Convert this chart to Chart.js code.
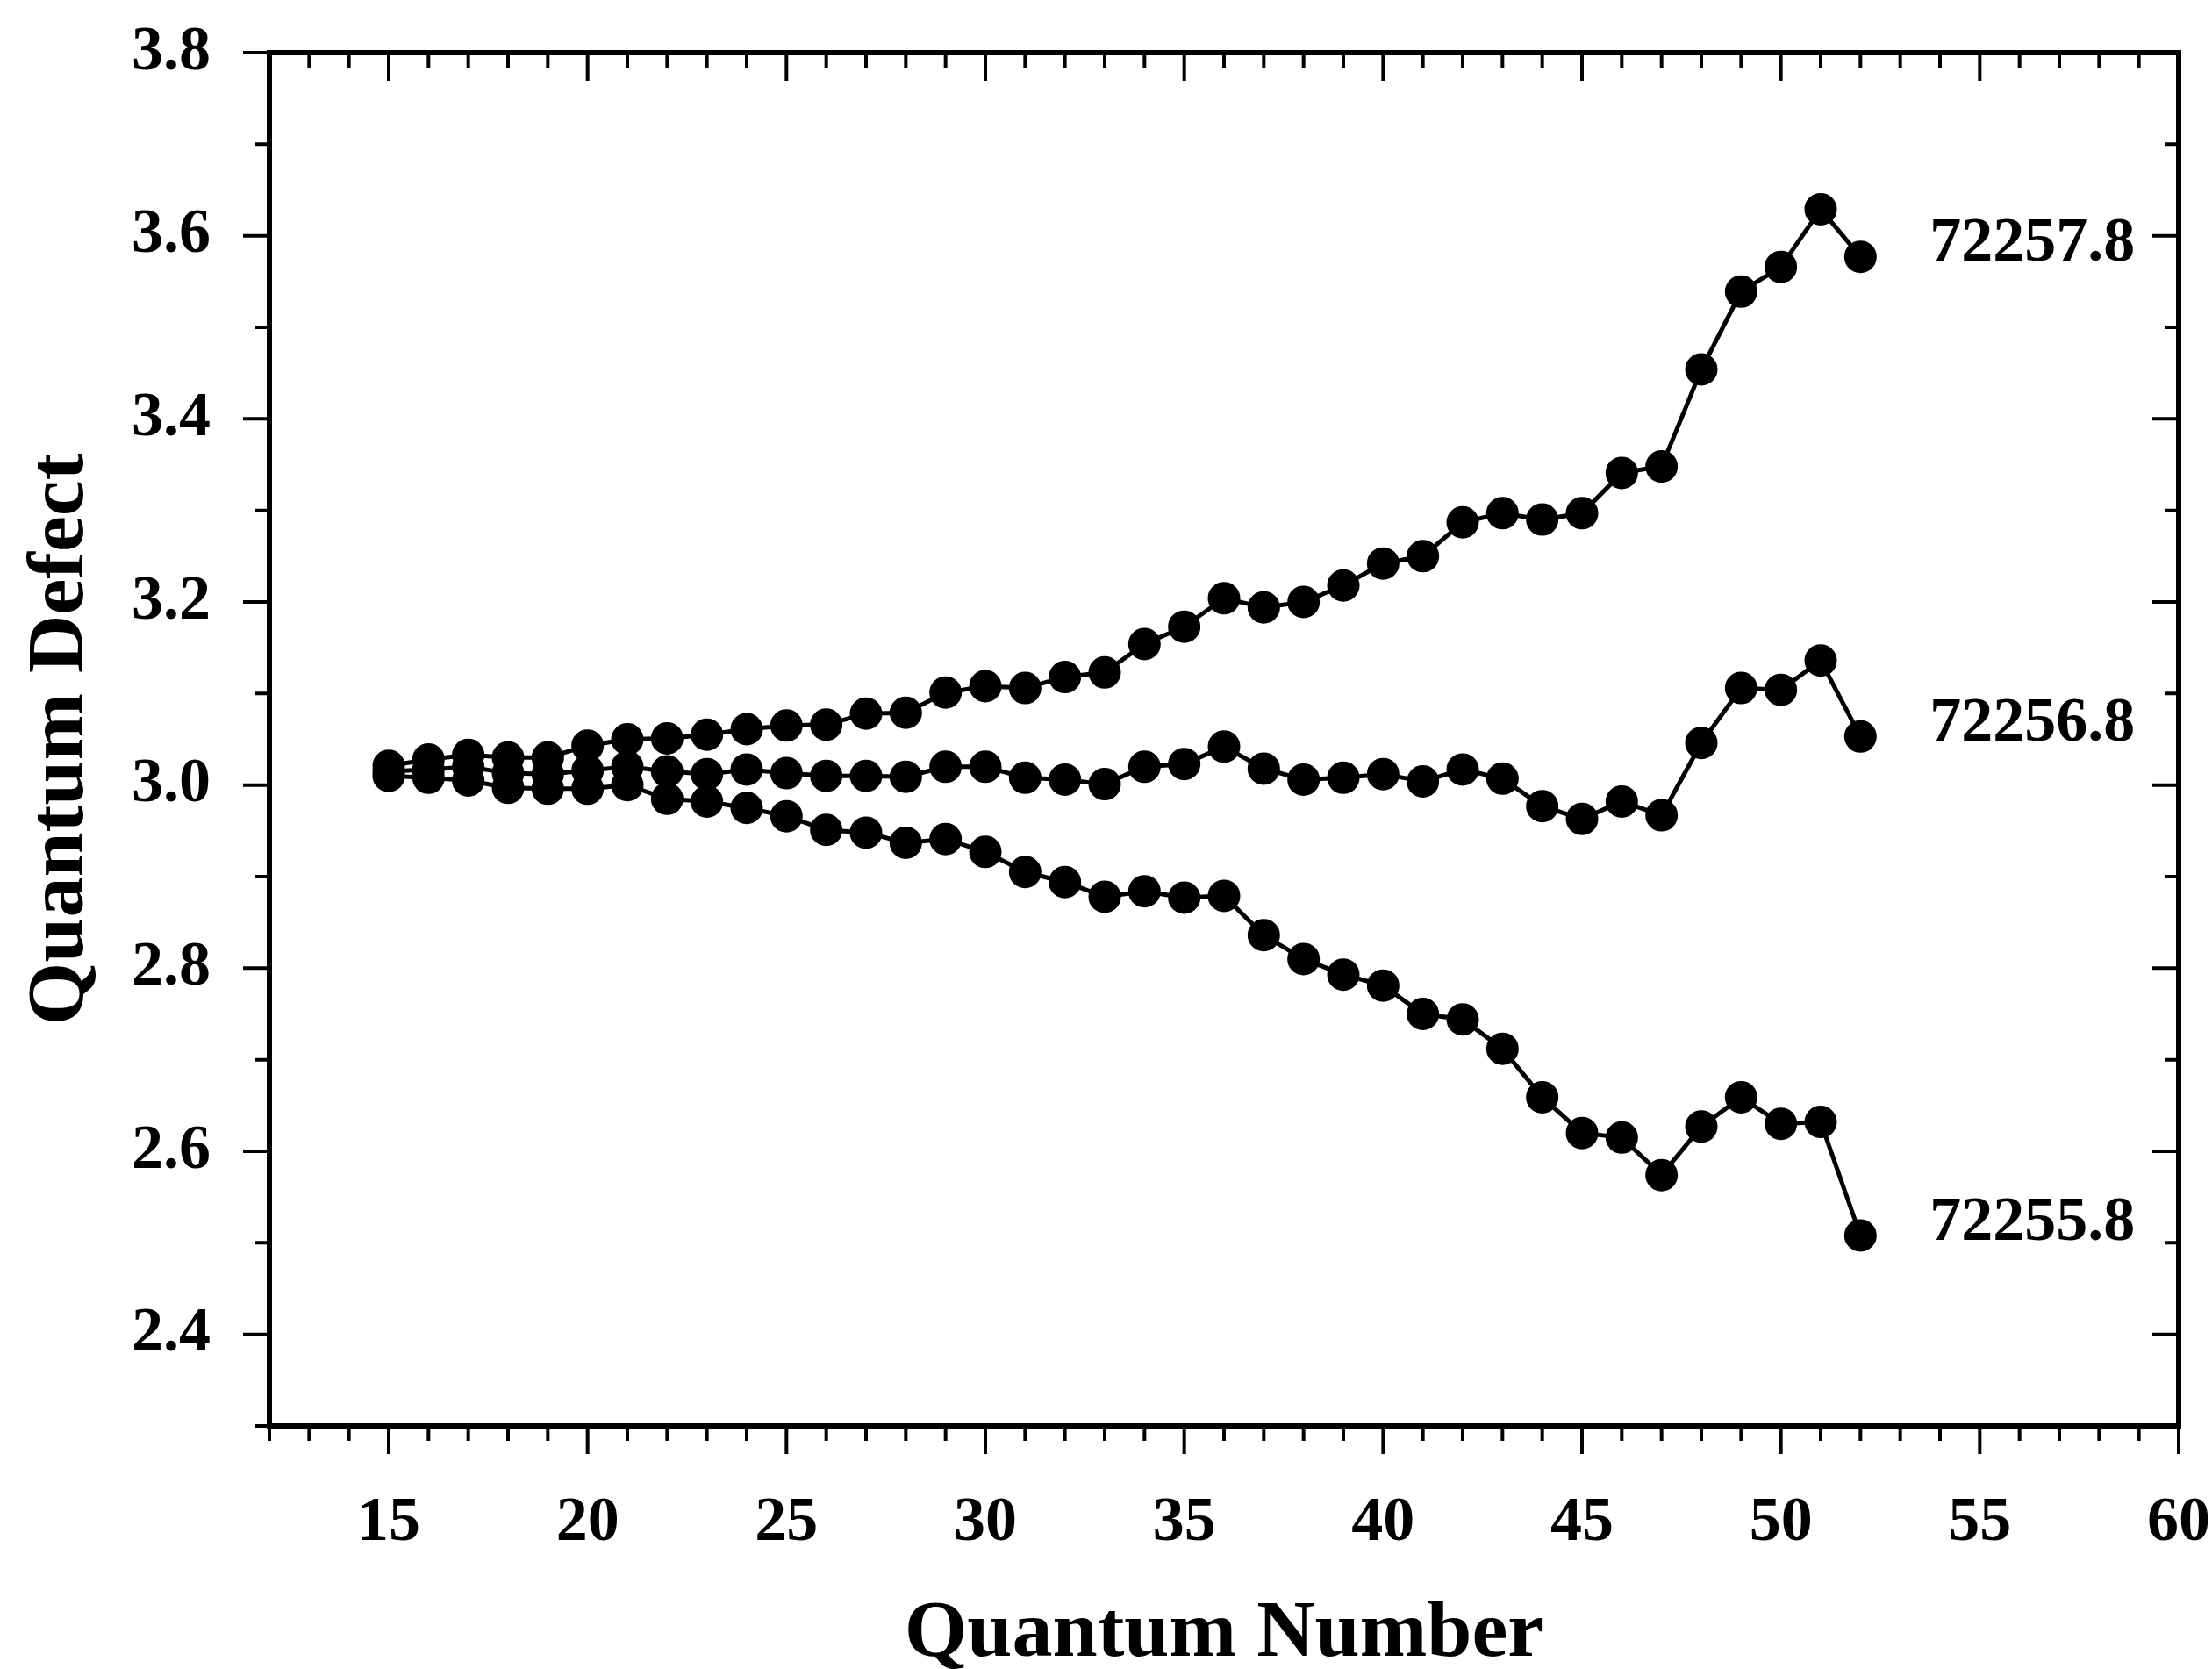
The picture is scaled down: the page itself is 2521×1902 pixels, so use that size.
<!DOCTYPE html>
<html>
<head>
<meta charset="utf-8">
<script src="https://cdn.jsdelivr.net/npm/chart.js@4.4.1/dist/chart.umd.min.js"></script>
<style>
  html, body { margin: 0; padding: 0; background: #fff; }
  #wrap { width: 2521px; height: 1902px; }
</style>
</head>
<body>
<div id="wrap"><canvas id="chart" width="2521" height="1902"></canvas></div>
<script>
// ========================
// DATA
// ========================
const quantumNumbers = [15, 16, 17, 18, 19, 20, 21, 22, 23, 24, 25, 26, 27, 28, 29, 30, 31, 32, 33,
  34, 35, 36, 37, 38, 39, 40, 41, 42, 43, 44, 45, 46, 47, 48, 49, 50, 51, 52];

const defect72257 = [3.021, 3.028, 3.033, 3.030, 3.030, 3.043, 3.050, 3.051, 3.055, 3.061,
  3.065, 3.066, 3.078, 3.079, 3.101, 3.108, 3.106, 3.118, 3.123, 3.154, 3.173, 3.204, 3.194,
  3.200, 3.218, 3.242, 3.250, 3.287, 3.297, 3.290, 3.297, 3.341, 3.348, 3.454, 3.539, 3.566,
  3.629, 3.577];

const defect72256 = [3.015, 3.017, 3.020, 3.013, 3.012, 3.016, 3.020, 3.015, 3.012, 3.017,
  3.013, 3.010, 3.010, 3.009, 3.020, 3.020, 3.008, 3.006, 3.001, 3.020, 3.023, 3.042, 3.018,
  3.006, 3.008, 3.012, 3.004, 3.017, 3.007, 2.977, 2.963, 2.982, 2.967, 3.046, 3.106, 3.104,
  3.136, 3.053];

const defect72255 = [3.010, 3.008, 3.005, 2.997, 2.996, 2.996, 3.000, 2.985, 2.982, 2.975,
  2.966, 2.951, 2.948, 2.937, 2.941, 2.927, 2.905, 2.894, 2.878, 2.884, 2.877, 2.879, 2.836,
  2.810, 2.793, 2.781, 2.750, 2.744, 2.712, 2.659, 2.620, 2.615, 2.574, 2.627, 2.659, 2.630,
  2.632, 2.508];

const seriesNames = ["72257.8", "72256.8", "72255.8"];
const xTickValues = [15, 20, 25, 30, 35, 40, 45, 50, 55, 60];
const yTickValues = [2.4, 2.6, 2.8, 3.0, 3.2, 3.4, 3.6, 3.8];
const xRange = [12, 60];
const yRange = [2.3, 3.8];

// ========================
// ESTILO
// ========================
const FONT = "'Liberation Serif', 'DejaVu Serif', serif";

function toPoints(values) {
  return quantumNumbers.map((n, i) => ({ x: n, y: values[i] }));
}

function serie(name, values) {
  return {
    label: name,
    data: toPoints(values),
    showLine: true,
    borderColor: "#000",
    backgroundColor: "#000",
    borderWidth: 5,
    pointRadius: 17,
    pointBorderWidth: 3,
    pointBackgroundColor: "#000",
    pointBorderColor: "#000"
  };
}

// marco, marcas menores/mayores y nombres de series
const marcoPlugin = {
  id: "marco",
  afterDatasetsDraw(chart) {
    const { ctx, chartArea: a, scales: { x, y } } = chart;
    ctx.save();
    ctx.strokeStyle = "#000";
    ctx.lineWidth = 6;
    ctx.strokeRect(a.left, a.top, a.right - a.left, a.bottom - a.top);

    ctx.lineWidth = 4;
    ctx.beginPath();
    for (let n = xRange[0]; n <= xRange[1]; n++) {
      const px = x.getPixelForValue(n);
      const len = n % 5 === 0 ? 32 : 17;
      ctx.moveTo(px, a.bottom); ctx.lineTo(px, a.bottom + len);
      ctx.moveTo(px, a.top); ctx.lineTo(px, a.top + len);
    }
    for (let k = Math.round(yRange[0] * 10); k <= Math.round(yRange[1] * 10); k++) {
      const py = y.getPixelForValue(k / 10);
      const len = k % 2 === 0 ? 30 : 16;
      ctx.moveTo(a.left, py); ctx.lineTo(a.left - len, py);
      ctx.moveTo(a.right, py); ctx.lineTo(a.right - len, py);
    }
    ctx.stroke();

    ctx.font = "bold 72px " + FONT;
    ctx.fillStyle = "#000";
    ctx.textAlign = "left";
    ctx.textBaseline = "middle";
    chart.data.datasets.forEach((ds) => {
      const last = ds.data[ds.data.length - 1];
      const px = x.getPixelForValue(last.x) + 79;
      const py = y.getPixelForValue(last.y) - 14;
      ctx.fillText(ds.label, px, py);
    });
    ctx.restore();
  }
};

// ========================
// GRAFICO
// ========================
const ctx = document.getElementById("chart").getContext("2d");
new Chart(ctx, {
  type: "scatter",
  data: {
    datasets: [
      serie(seriesNames[0], defect72257),
      serie(seriesNames[1], defect72256),
      serie(seriesNames[2], defect72255)
    ]
  },
  options: {
    responsive: false,
    animation: false,
    devicePixelRatio: 1,
    layout: { padding: { top: 60, right: 38, left: 0, bottom: 0 } },
    plugins: {
      legend: { display: false },
      tooltip: { enabled: false }
    },
    scales: {
      x: {
        type: "linear",
        min: xRange[0],
        max: xRange[1],
        afterBuildTicks: (s) => { s.ticks = xTickValues.map((v) => ({ value: v })); },
        afterFit: (s) => {
          s.height = 277;
          s.paddingLeft = 0;
          s.paddingRight = 0;
        },
        grid: { display: false, drawTicks: false },
        border: { display: false },
        ticks: {
          padding: 68,
          color: "#000",
          maxRotation: 0,
          autoSkip: false,
          font: { family: FONT, size: 72, weight: "bold" },
          callback: (v) => String(v)
        },
        title: {
          display: true,
          text: "Quantum Number",
          color: "#000",
          font: { family: FONT, size: 92, weight: "bold", lineHeight: 1 },
          padding: { top: 0, bottom: -7 }
        }
      },
      y: {
        type: "linear",
        min: yRange[0],
        max: yRange[1],
        afterBuildTicks: (s) => { s.ticks = yTickValues.map((v) => ({ value: v })); },
        afterFit: (s) => {
          s.width = 307;
          s.paddingTop = 0;
          s.paddingBottom = 0;
        },
        grid: { display: false, drawTicks: false },
        border: { display: false },
        ticks: {
          padding: 67,
          color: "#000",
          autoSkip: false,
          font: { family: FONT, size: 72, weight: "bold" },
          callback: (v) => Number(v).toFixed(1)
        },
        title: {
          display: true,
          text: "Quantum Defect",
          color: "#000",
          font: { family: FONT, size: 92, weight: "bold", lineHeight: 1 },
          padding: { top: 24, bottom: 0 }
        }
      }
    }
  },
  plugins: [marcoPlugin]
});
</script>
</body>
</html>
